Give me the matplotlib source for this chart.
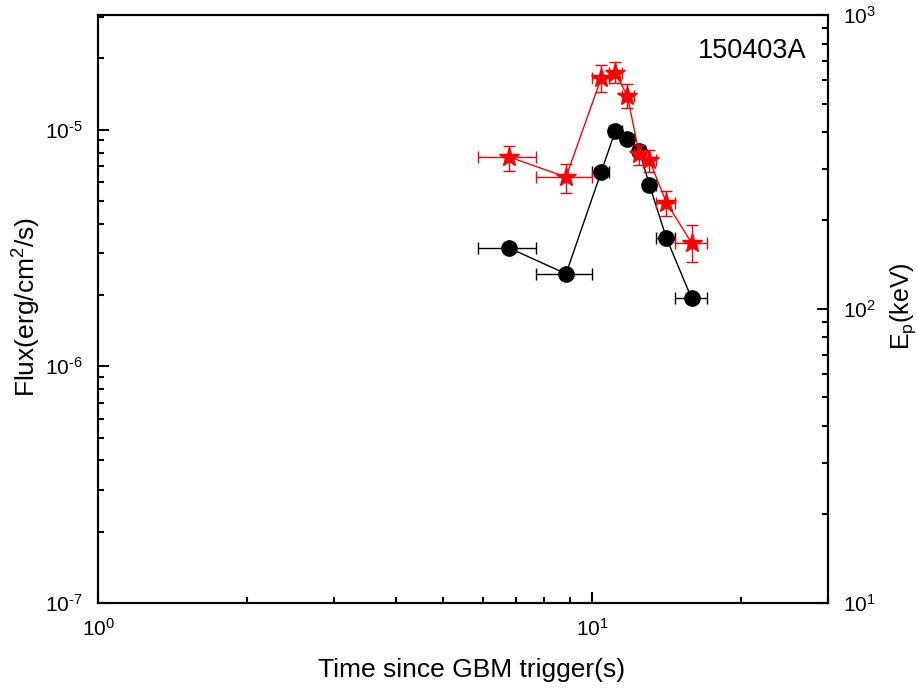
import numpy as np
import matplotlib
matplotlib.use("Agg")
import matplotlib.pyplot as plt
from matplotlib.ticker import LogLocator, NullFormatter, FuncFormatter

plt.rcParams['font.family'] = ['Liberation Sans', 'DejaVu Sans']
plt.rcParams['mathtext.fontset'] = 'custom'
plt.rcParams['mathtext.rm'] = 'Liberation Sans'
plt.rcParams['mathtext.it'] = 'Liberation Sans'

# time bins (s)
t_mid = [6.79, 8.85, 10.43, 11.14, 11.78, 12.45, 13.05, 14.13, 15.88]
t_lo = [5.87, 7.70, 10.0, 10.8, 11.5, 12.15, 12.8, 13.45, 14.7]
t_hi = [7.70, 10.0, 10.8, 11.5, 12.15, 12.8, 13.45, 14.7, 17.1]

# flux (erg/cm2/s)
flux = [3.16e-6, 2.46e-6, 6.64e-6, 9.9e-6, 9.16e-6, 8.15e-6, 5.85e-6, 3.48e-6, 1.94e-6]

# peak energy (keV)
ep = [329, 281, 611, 635, 530, 337, 321, 230, 168]
ep_err_lo = [35, 33, 64, 48, 47, 28, 29, 23, 23]
ep_err_hi = [29, 30, 65, 57, 52, 24, 26, 22, 25]

t_mid = np.array(t_mid)
xerr = [t_mid - np.array(t_lo), np.array(t_hi) - t_mid]


def pow10(v, pos):
    e = int(round(np.log10(v)))
    if e < 0:
        return r'$\mathregular{10^{\text{-}%d}}$' % (-e)
    return r'$\mathregular{10^{%d}}$' % e


fig = plt.figure(figsize=(9.17, 6.95), dpi=100)
ax = fig.add_axes([0.1069, 0.1324, 0.7961, 0.8460])
ax2 = ax.twinx()

ax.errorbar(t_mid, flux, xerr=xerr, fmt='o-', color='black', ms=11, lw=1.0,
            elinewidth=1.0, capsize=4, capthick=1.0, zorder=3)
ax2.errorbar(t_mid, ep, xerr=xerr, yerr=[ep_err_lo, ep_err_hi], fmt='*-', color='red',
             ms=15, lw=1.0, elinewidth=1.0, capsize=4, capthick=1.0, zorder=4)

ax.set_xscale('log')
ax.set_yscale('log')
ax2.set_yscale('log')
ax.set_xlim(1, 30)
ax.set_ylim(1e-7, 3.05e-5)
ax2.set_ylim(10, 1000)

for a in (ax, ax2):
    for s in a.spines.values():
        s.set_linewidth(1.5)

ax.xaxis.set_major_locator(LogLocator(base=10))
ax.xaxis.set_major_formatter(FuncFormatter(pow10))
ax.xaxis.set_minor_locator(LogLocator(base=10, subs=np.arange(2, 10)))
ax.xaxis.set_minor_formatter(NullFormatter())
ax.yaxis.set_major_formatter(FuncFormatter(pow10))
ax.yaxis.set_minor_locator(LogLocator(base=10, subs=np.arange(2, 10)))
ax.yaxis.set_minor_formatter(NullFormatter())
ax2.yaxis.set_major_formatter(FuncFormatter(pow10))
ax2.yaxis.set_minor_locator(LogLocator(base=10, subs=np.arange(2, 10)))
ax2.yaxis.set_minor_formatter(NullFormatter())

ax.tick_params(which='both', direction='in', top=False, right=False, labelsize=15, width=1.5, pad=11)
ax.tick_params(which='major', length=8)
ax.tick_params(which='minor', length=4)
ax2.tick_params(which='both', direction='in', labelsize=15, width=1.5, pad=11)
ax2.tick_params(which='major', length=8)
ax2.tick_params(which='minor', length=4)

ax.set_xlabel('Time since GBM trigger(s)', fontsize=19)
ax.xaxis.set_label_coords(0.512, -0.093)
ax.set_ylabel('Flux(erg/cm$^2$/s)', fontsize=19)
ax.yaxis.set_label_coords(-0.0754, 0.504)
ax2.set_ylabel('E$_\\mathrm{p}$(keV)', fontsize=18)
ax2.yaxis.set_label_coords(1.082, 0.504)

ax.text(0.971, 0.939, '150403A', transform=ax.transAxes, ha='right', va='center', fontsize=19.5)

fig.savefig('out.png', dpi=100)
